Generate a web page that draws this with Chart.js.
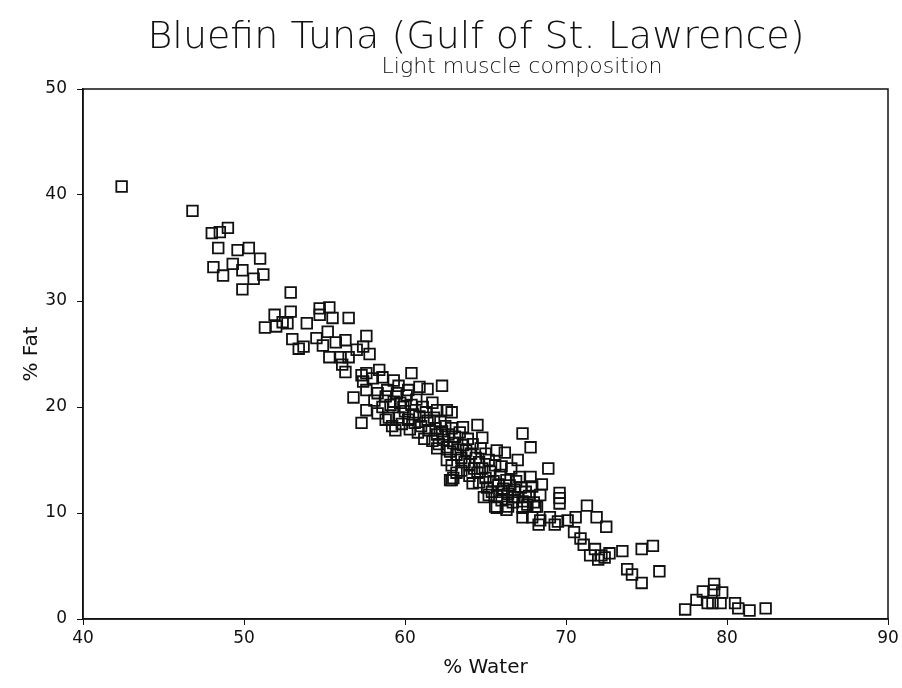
<!DOCTYPE html>
<html>
<head>
<meta charset="utf-8">
<script src="https://cdn.jsdelivr.net/npm/chart.js@4/dist/chart.umd.min.js"></script>
<style>
  html, body { margin: 0; padding: 0; background: #fff; }
  #wrap { width: 902px; height: 688px; }
</style>
</head>
<body>
<div id="wrap"><canvas id="tuna" width="902" height="688"></canvas></div>
<script>
// % Water readings (x)
const waterPct = [
    42.4, 46.8, 48.0, 48.5, 49.0, 48.4, 49.6, 50.3, 51.0, 48.1,
    48.7, 49.3, 49.9, 50.6, 51.2, 49.9, 52.9, 52.9, 51.9, 52.4,
    51.3, 52.0, 52.7, 53.0, 53.4, 53.7, 53.9, 54.7, 55.3, 54.7,
    55.5, 56.5, 54.5, 55.2, 55.7, 56.3, 54.9, 57.6, 57.4, 57.8,
    57.0, 55.3, 56.0, 56.5, 56.1, 56.3, 57.3, 57.6, 58.4, 60.4,
    62.3, 59.3, 57.4, 58.0, 58.6, 60.9, 61.4, 56.8, 57.6, 58.3,
    58.9, 59.5, 60.1, 57.6, 58.3, 57.3, 58.6, 59.1, 59.7, 60.7,
    61.1, 61.7, 62.0, 62.6, 62.9, 63.6, 64.5, 64.8, 64.7, 67.3,
    67.8, 65.7, 66.2, 67.0, 65.2, 68.9, 67.8, 68.5, 67.1, 69.6,
    69.6, 69.6, 68.4, 68.2, 62.8, 65.7, 66.3, 67.3, 67.9, 68.4,
    69.0, 69.5, 70.1, 70.6, 71.3, 71.9, 72.5, 68.3, 69.3, 73.5,
    74.7, 75.4, 72.7, 72.2, 72.4, 73.8, 74.1, 74.7, 75.8, 77.4,
    78.1, 78.5, 79.2, 79.2, 79.7, 78.8, 79.1, 79.6, 80.5, 80.7,
    81.4, 82.4, 70.5, 70.9, 71.1, 71.8, 72.0, 71.5,
    59.6, 59.8, 60.0, 60.2, 60.3, 60.5, 60.6, 60.8, 60.9, 61.0,
    61.2, 61.3, 61.4, 61.5, 61.7, 61.8, 61.9, 62.0, 62.1, 62.2,
    62.3, 62.4, 62.5, 62.6, 62.7, 62.8, 62.9, 63.0, 63.1, 63.2,
    63.3, 63.4, 63.5, 63.6, 63.7, 63.8, 63.9, 64.0, 64.1, 64.2,
    64.3, 64.4, 59.0, 59.2, 58.8, 59.4, 58.1, 58.8, 59.3, 59.9,
    60.4, 60.2, 59.6,
    64.5, 64.6, 64.8, 65.0, 65.1, 65.3, 65.4, 65.5, 65.7, 65.8,
    65.9, 66.0, 66.1, 66.3, 66.4, 66.5, 66.7, 66.8, 66.9, 67.0,
    67.2, 67.3, 67.5, 67.6, 67.7, 67.9, 68.0, 64.9, 65.0, 64.6,
    65.6, 66.0, 66.6, 62.9, 63.2, 63.5, 64.0, 64.2, 63.0, 65.2,
    66.0, 66.8, 65.6, 66.4, 67.3, 68.1, 62.0, 62.6, 62.9
];

// % Fat readings (y), same order as waterPct
const fatPct = [
    40.8, 38.5, 36.4, 36.5, 36.9, 35.0, 34.8, 35.0, 34.0, 33.2,
    32.4, 33.5, 32.9, 32.1, 32.5, 31.1, 30.8, 29.0, 28.7, 28.0,
    27.5, 27.6, 27.9, 26.4, 25.5, 25.7, 27.9, 29.3, 29.4, 28.7,
    28.4, 28.4, 26.5, 27.1, 26.1, 26.3, 25.8, 26.7, 25.7, 25.0,
    25.4, 24.7, 24.7, 24.7, 24.0, 23.3, 23.0, 23.2, 23.5, 23.2,
    22.0, 22.5, 22.4, 22.7, 22.8, 21.9, 21.7, 20.9, 21.6, 21.3,
    21.6, 21.3, 21.1, 19.7, 19.4, 18.5, 20.0, 20.2, 20.4, 20.7,
    20.0, 20.4, 19.7, 19.7, 19.5, 18.1, 18.3, 17.1, 16.1, 17.5,
    16.2, 15.9, 15.7, 15.0, 15.0, 14.2, 13.4, 12.7, 13.4, 11.9,
    11.4, 10.9, 11.7, 10.6, 13.1, 10.5, 10.3, 9.6, 9.6, 9.3,
    9.6, 9.2, 9.3, 9.6, 10.7, 9.6, 8.7, 8.9, 8.9, 6.4,
    6.6, 6.9, 6.2, 6.0, 5.8, 4.7, 4.2, 3.4, 4.5, 0.9,
    1.8, 2.6, 3.3, 2.7, 2.5, 1.5, 1.5, 1.5, 1.5, 1.0,
    0.8, 1.0, 8.2, 7.6, 7.0, 6.6, 5.6, 6.0,
    19.0, 18.4, 19.6, 18.8, 17.9, 19.3, 18.5, 17.6, 19.1, 18.2,
    17.0, 19.5, 18.7, 17.8, 16.8, 19.0, 18.0, 17.4, 16.5, 18.6,
    17.7, 16.9, 18.2, 16.2, 17.4, 15.8, 18.0, 16.6, 17.2, 15.5,
    16.0, 17.6, 15.2, 16.4, 14.8, 15.9, 17.0, 14.6, 15.6, 16.5,
    14.2, 15.2, 19.0, 18.2, 18.8, 17.8, 20.6, 21.0, 20.5, 20.0,
    20.2, 21.6, 22.0,
    13.8, 12.9, 14.2, 13.3, 12.4, 13.9, 12.0, 13.0, 11.6, 12.7,
    13.6, 11.2, 12.3, 13.1, 11.8, 12.6, 11.0, 12.2, 13.0, 11.5,
    12.4, 11.1, 12.0, 10.8, 11.6, 12.5, 11.0, 11.5, 15.6, 14.8,
    14.5, 14.4, 14.2, 14.5, 13.8, 14.0, 13.5, 12.8, 13.3, 11.7,
    12.0, 11.5, 10.6, 10.6, 10.5, 10.6, 16.1, 15.0, 13.1
];

const xTicks = [40, 50, 60, 70, 80, 90];
const yTicks = [0, 10, 20, 30, 40, 50];

const titleText = 'Bluefin Tuna (Gulf of St. Lawrence)';
const subtitleText = 'Light muscle composition';

const FONT = 'DejaVu Sans';
const INK = '#111';

// frame around the plot area, plus the two heading lines
// (the subtitle sits a bit right of the title's centre, as on the original)
const framePlugin = {
    id: 'frame',
    afterDatasetsDraw(chart) {
        const a = chart.chartArea;
        const ctx = chart.ctx;
        ctx.save();
        ctx.strokeStyle = INK;
        ctx.lineWidth = 1.5;
        ctx.strokeRect(a.left, a.top, a.right - a.left, a.bottom - a.top);

        ctx.fillStyle = INK;
        ctx.textAlign = 'center';
        ctx.textBaseline = 'alphabetic';
        ctx.font = `200 38px "${FONT}"`;
        ctx.fillText(titleText, 476, 48);
        ctx.font = `200 22px "${FONT}"`;
        ctx.fillText(subtitleText, 522, 73);
        ctx.restore();
    }
};

const points = waterPct.map((w, i) => ({ x: w, y: fatPct[i] }));

new Chart(document.getElementById('tuna'), {
    type: 'scatter',
    data: {
        datasets: [{
            data: points,
            pointStyle: 'rect',
            pointRadius: 7.5,
            pointBorderWidth: 1.8,
            borderColor: INK,
            backgroundColor: 'rgba(0,0,0,0)'
        }]
    },
    options: {
        responsive: false,
        animation: false,
        layout: { padding: { left: 20, right: 14, top: 89, bottom: 8 } },
        plugins: {
            legend: { display: false },
            tooltip: { enabled: false }
        },
        scales: {
            x: {
                type: 'linear',
                min: 40,
                max: 90,
                afterBuildTicks: axis => { axis.ticks = xTicks.map(v => ({ value: v })); },
                afterFit: axis => { axis.height = 61; },
                ticks: {
                    color: INK,
                    font: { family: FONT, size: 17 },
                    padding: 3
                },
                grid: { drawOnChartArea: false, tickLength: 6, color: INK },
                border: { color: INK, width: 1.5 },
                title: {
                    display: true,
                    text: '% Water',
                    color: INK,
                    font: { family: FONT, size: 20 },
                    padding: { top: 0, bottom: 0 }
                }
            },
            y: {
                type: 'linear',
                min: 0,
                max: 50,
                afterBuildTicks: axis => { axis.ticks = yTicks.map(v => ({ value: v })); },
                afterFit: axis => { axis.width = 63; },
                ticks: {
                    color: INK,
                    font: { family: FONT, size: 17 },
                    padding: 10
                },
                grid: { drawOnChartArea: false, tickLength: 6, color: INK },
                border: { color: INK, width: 1.5 },
                title: {
                    display: true,
                    text: '% Fat',
                    color: INK,
                    font: { family: FONT, size: 20 },
                    padding: { top: 0, bottom: 0 }
                }
            }
        }
    },
    plugins: [framePlugin]
});
</script>
</body>
</html>
